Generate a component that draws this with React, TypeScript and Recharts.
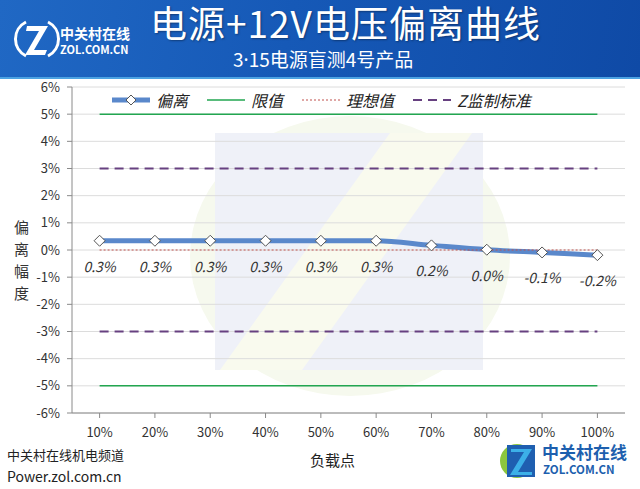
import React from 'react';
import { LineChart, Line, XAxis, YAxis, CartesianGrid, LabelList } from 'recharts';

const loads = ['10%', '20%', '30%', '40%', '50%', '60%', '70%', '80%', '90%', '100%'];
const deviation = [0.34, 0.34, 0.34, 0.34, 0.34, 0.34, 0.17, 0.01, -0.09, -0.19];
const limitUpper = [5, 5, 5, 5, 5, 5, 5, 5, 5, 5];
const limitLower = [-5, -5, -5, -5, -5, -5, -5, -5, -5, -5];
const ideal = [0, 0, 0, 0, 0, 0, 0, 0, 0, 0];
const zUpper = [3, 3, 3, 3, 3, 3, 3, 3, 3, 3];
const zLower = [-3, -3, -3, -3, -3, -3, -3, -3, -3, -3];
const yTicks = [-6, -5, -4, -3, -2, -1, 0, 1, 2, 3, 4, 5, 6];

const rows = loads.map((load, i) => ({
  load,
  deviation: deviation[i],
  limitUpper: limitUpper[i],
  limitLower: limitLower[i],
  ideal: ideal[i],
  zUpper: zUpper[i],
  zLower: zLower[i],
}));

const FONT = "'Noto Sans CJK SC', 'Noto Sans', sans-serif";
const BLUE = '#5A88CB';
const GREEN = '#22A650';
const RED = '#C0504D';
const PURPLE = '#674080';

const legendItems = [
  { name: '偏离', color: BLUE, width: 5, dash: undefined as string | undefined, marker: true },
  { name: '限值', color: GREEN, width: 1.5, dash: undefined, marker: false },
  { name: '理想值', color: RED, width: 1, dash: '2 2', marker: false },
  { name: 'Z监制标准', color: PURPLE, width: 1.8, dash: '9 6', marker: false },
];

// eslint-disable-next-line @typescript-eslint/no-explicit-any
const Diamond = (props: any) => {
  const { cx, cy, index } = props;
  if (cx == null || cy == null) return <g key={`d-${index}`} />;
  const r = 5.5;
  return (
    <path
      key={`d-${index}`}
      d={`M${cx},${cy - r}L${cx + r},${cy}L${cx},${cy + r}L${cx - r},${cy}Z`}
      fill="#fff"
      stroke="#555"
      strokeWidth={1}
    />
  );
};

// eslint-disable-next-line @typescript-eslint/no-explicit-any
const PointLabel = (props: any) => {
  const { x, y, value } = props;
  return (
    <text
      x={x}
      y={y + 25}
      textAnchor="middle"
      dominantBaseline="central"
      fontFamily={FONT}
      fontStyle="italic"
      fontSize={14}
      fill="#333"
    >
      {`${Number(value).toFixed(1)}%`}
    </text>
  );
};

function Watermark() {
  return (
    <svg width={640} height={489} style={{ position: 'absolute', left: 0, top: 0 }}>
      <ellipse cx={350} cy={256} rx={160} ry={140} fill="#f6f9ee" />
      <rect x={215} y={133} width={268} height={237} fill="#eff1f8" />
      <polygon points="390,133 472,133 302,370 220,370" fill="#f9faee" />
    </svg>
  );
}

function Header() {
  return (
    <div
      style={{
        position: 'absolute',
        left: 0,
        top: 0,
        width: 640,
        height: 77,
        background: 'linear-gradient(100deg, #2068c4 0%, #1659b7 45%, #0f4aa6 100%)',
        borderBottom: '2px solid #4da3e2',
      }}
    >
      <svg width={640} height={77} style={{ position: 'absolute', left: 0, top: 0 }} fontFamily={FONT}>
        <g transform="translate(12,14)">
          <path d="M14,8 A19,19 0 0,0 14,42" stroke="#fff" strokeWidth={3} fill="none" />
          <path d="M36,8 A19,19 0 0,1 36,42" stroke="#fff" strokeWidth={3} fill="none" />
          <path d="M15,12 L36,12 L22,36 L35,36 L33,41 L13,41 L27,17 L14,17 Z" fill="#fff" />
        </g>
        <text x={60} y={39} fontSize={14} fontWeight={700} fill="#fff">中关村在线</text>
        <text x={60} y={54} fontSize={11} fontWeight={700} fill="#fff">ZOL.COM.CN</text>
        <text
          x={150}
          y={38}
          fontSize={37}
          letterSpacing={1}
          fill="#fff"
          style={{ textShadow: '1px 1px 2px rgba(0,0,0,0.35)' }}
        >
          电源+12V电压偏离曲线
        </text>
        <text x={233} y={67} fontSize={19} fill="#fff">
          3<tspan fontFamily="'Noto Sans', sans-serif">·</tspan>15电源盲测4号产品
        </text>
      </svg>
    </div>
  );
}

function LegendOverlay() {
  return (
    <div
      style={{
        position: 'absolute',
        left: 112,
        top: 90,
        height: 20,
        display: 'flex',
        alignItems: 'center',
        fontFamily: FONT,
        fontStyle: 'italic',
        fontSize: 16,
        color: '#222',
      }}
    >
      {legendItems.map((it) => (
        <div key={it.name} style={{ display: 'flex', alignItems: 'center', marginRight: 19 }}>
          <svg width={38} height={14}>
            <line
              x1={0}
              y1={7}
              x2={38}
              y2={7}
              stroke={it.color}
              strokeWidth={it.width}
              strokeDasharray={it.dash}
            />
            {it.marker && <path d="M19,2 L24,7 L19,12 L14,7 Z" fill="#fff" stroke="#555" strokeWidth={1} />}
          </svg>
          <span style={{ marginLeft: 6, whiteSpace: 'nowrap' }}>{it.name}</span>
        </div>
      ))}
    </div>
  );
}

function Footer() {
  return (
    <>
      <div
        style={{
          position: 'absolute',
          left: 14,
          top: 216,
          width: 16,
          fontFamily: FONT,
          fontSize: 15,
          lineHeight: '22px',
          color: '#333',
        }}
      >
        {'偏离幅度'.split('').map((c) => (
          <div key={c}>{c}</div>
        ))}
      </div>
      <div
        style={{
          position: 'absolute',
          left: 310,
          top: 451,
          fontFamily: FONT,
          fontSize: 15,
          color: '#222',
          lineHeight: '18px',
        }}
      >
        负载点
      </div>
      <div style={{ position: 'absolute', left: 7, top: 446, fontFamily: FONT, fontSize: 13, lineHeight: '18px', color: '#222' }}>
        中关村在线机电频道
      </div>
      <div style={{ position: 'absolute', left: 7, top: 467, fontFamily: FONT, fontSize: 14, lineHeight: '18px', color: '#222' }}>
        Power.zol.com.cn
      </div>
      <svg width={140} height={59} style={{ position: 'absolute', left: 500, top: 430 }} fontFamily={FONT}>
        <circle cx={17} cy={31} r={17} fill="#8cc63f" />
        <rect x={7} y={15} width={28} height={32} fill="#1f5fb0" />
        <path d="M11,19 L32,19 L18,42 L32,42 L32,45 L10,45 L24,22 L11,22 Z" fill="#3cb0e8" />
        <text x={42} y={29} fontSize={17} fontWeight={700} fill="#1d5fae">中关村在线</text>
        <text x={43} y={44} fontSize={11.5} fontWeight={700} fill="#1d5fae">ZOL.COM.CN</text>
      </svg>
    </>
  );
}

export default function App() {
  return (
    <div style={{ position: 'absolute', left: 0, top: 0, width: 640, height: 489, background: '#fff', overflow: 'hidden' }}>
      <Watermark />
      <Header />
      <div style={{ position: 'absolute', left: 0, top: 0 }}>
        <LineChart width={640} height={489} data={rows} margin={{ top: 87, right: 15, bottom: 36, left: 0 }}>
          <CartesianGrid vertical={false} stroke="#dcdcdc" />
          <XAxis
            dataKey="load"
            height={40}
            padding={{ left: 27.6, right: 27.6 }}
            axisLine={{ stroke: '#8a8a8a' }}
            tickLine={{ stroke: '#8a8a8a' }}
            tickSize={5}
            tickMargin={10}
            tick={{ fontSize: 13, fill: '#333', fontFamily: FONT }}
            interval={0}
          />
          <YAxis
            width={72}
            domain={[-6, 6]}
            ticks={yTicks}
            axisLine={{ stroke: '#8a8a8a' }}
            tickLine={{ stroke: '#8a8a8a' }}
            tickSize={5}
            tickMargin={7}
            tick={{ fontSize: 13, fill: '#333', fontFamily: FONT }}
            tickFormatter={(v: number) => `${v}%`}
          />
          <Line
            type="monotone"
            dataKey="deviation"
            stroke={BLUE}
            strokeWidth={5}
            dot={Diamond}
            activeDot={false}
            isAnimationActive={false}
          >
            <LabelList dataKey="deviation" content={PointLabel} />
          </Line>
          <Line dataKey="limitUpper" stroke={GREEN} strokeWidth={1.5} dot={false} isAnimationActive={false} />
          <Line dataKey="limitLower" stroke={GREEN} strokeWidth={1.5} dot={false} isAnimationActive={false} />
          <Line dataKey="ideal" stroke={RED} strokeWidth={1} strokeDasharray="2 2" dot={false} isAnimationActive={false} />
          <Line dataKey="zUpper" stroke={PURPLE} strokeWidth={1.8} strokeDasharray="9 6" dot={false} isAnimationActive={false} />
          <Line dataKey="zLower" stroke={PURPLE} strokeWidth={1.8} strokeDasharray="9 6" dot={false} isAnimationActive={false} />
        </LineChart>
      </div>
      <LegendOverlay />
      <Footer />
    </div>
  );
}
